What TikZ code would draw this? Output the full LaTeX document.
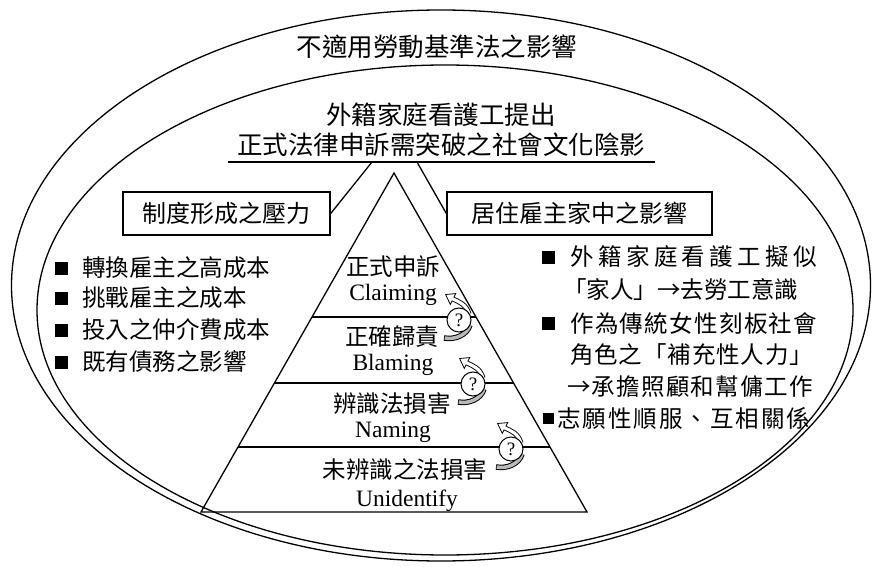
\documentclass[tikz,border=0pt]{standalone}
\usepackage{fontspec}
\setmainfont{Liberation Serif}
\newfontfamily\cjk{Noto Sans CJK TC}
\usetikzlibrary{calc}
\begin{document}
\begin{tikzpicture}[x=1pt,y=-1pt,
  cjktxt/.style={font=\cjk\fontsize{23.5}{28}\selectfont, inner sep=0pt},
  lattxt/.style={font=\fontsize{23.5}{28}\selectfont, inner sep=0pt},
  headtxt/.style={font=\cjk\fontsize{25.5}{30}\selectfont, inner sep=0pt},
  labelbox/.style={draw, line width=1.4pt, minimum height=43pt, inner sep=0pt, font=\cjk\fontsize{24}{28}\selectfont},
  bulletsq/.style={fill=black, minimum size=13pt, inner sep=0pt},
  qcircle/.style={circle, draw, fill=white, line width=1pt, minimum size=24pt, inner sep=0pt, font=\fontsize{19}{20}\selectfont},
  outline/.style={line width=1.3pt},
  qmarkback/.style={line width=5.5pt},
  qmarkfront/.style={line width=3.5pt, gray!55}
]
\useasboundingbox (0,0) rectangle (872,567);
\fill[white] (0,0) rectangle (872,567);

% ellipses
\draw[outline] (441,285.5) ellipse [x radius=429.5pt, y radius=275.5pt];
\draw[outline] (445,310) ellipse [x radius=408pt, y radius=245pt];

% headings
\node[headtxt] (title) at (437,47) {不適用勞動基準法之影響};
\node[headtxt] (head1) at (441,115) {外籍家庭看護工提出};
\node[headtxt] (head2) at (441,145) {正式法律申訴需突破之社會文化陰影};
\coordinate (ulA) at (228,162);
\coordinate (ulB) at (655,162);
\draw[line width=1.8pt] (ulA) -- (ulB);
\coordinate (ulL) at (372,162);
\coordinate (ulR) at (417,162);

% boxes
\node[labelbox, minimum width=207pt] (lbox) at (226.5,213.5) {制度形成之壓力};
\node[labelbox, minimum width=265pt] (rbox) at (579.5,213.5) {居住雇主家中之影響};
\draw[outline] (ulL) -- (lbox.east);
\draw[outline] (ulR) -- (rbox.west);

% pyramid
\coordinate (apex) at (394,173);
\coordinate (bl) at (201,512);
\coordinate (br) at (587,512);
\draw[outline, line join=miter] (apex) -- (bl) -- (br) -- cycle;
\foreach \f in {0.4248,0.6195,0.8083}{
  \draw[outline] ($(apex)!\f!(bl)$) -- ($(apex)!\f!(br)$);
}

% pyramid texts
\node[cjktxt] (t1) at (393,267) {正式申訴};
\node[lattxt] (l1) at (393,295) {Claiming};
\node[cjktxt] (t2) at (392,337) {正確歸責};
\node[lattxt] (l2) at (393,365) {Blaming};
\node[cjktxt] (t3) at (392,403) {辨識法損害};
\node[lattxt] (l3) at (393,432) {Naming};
\node[cjktxt] (t4) at (405,469) {未辨識之法損害};
\node[lattxt] (l4) at (407,501) {Unidentify};

% question marks with curved arrows
\foreach \cx/\cy/\nm in {459/320/q1, 473/384/q2, 511/449/q3}{
  \begin{scope}[shift={(\cx,\cy)}]
    \draw[qmarkback] (-15,18) .. controls (-4,20) and (8,15) .. (11,5);
    \draw[qmarkfront] (-14.3,18) .. controls (-4,20) and (8,15) .. (11,5);
    \draw[line width=5pt] (10,-6) .. controls (7,-16) and (0,-18) .. (-6,-21);
    \filldraw[fill=white, line width=0.8pt] (-13.4,-25.5) -- (-3.3,-26.4) -- (-8.7,-15.6) -- cycle;
    \draw[line width=3.2pt, white] (10,-6) .. controls (7,-16) and (0,-18) .. (-6,-21) -- (-7.3,-21.6);
    \node[qcircle] (\nm) at (0,0) {?};
  \end{scope}
}

% left bullets
\foreach \y/\txt/\nm in {268/轉換雇主之高成本/a1, 298/挑戰雇主之成本/a2, 330/投入之仲介費成本/a3, 362/既有債務之影響/a4}{
  \node[bulletsq] (\nm sq) at (61.5,\y) {};
  \node[cjktxt, anchor=west] (\nm) at (82,\y) {\txt};
}

% right bullets
\node[bulletsq] (b1sq) at (548.5,257) {};
\node[cjktxt, anchor=west] (b1) at (570,257) {\makebox[247pt][s]{外\hfill 籍\hfill 家\hfill 庭\hfill 看\hfill 護\hfill 工\hfill 擬\hfill 似}};
\node[cjktxt, anchor=west] (b1b) at (563,290) {「家人」→去勞工意識};
\node[bulletsq] (b2sq) at (548.5,323) {};
\node[cjktxt, anchor=west] (b2) at (570,323) {\makebox[247pt][s]{作\hfill 為\hfill 傳\hfill 統\hfill 女\hfill 性\hfill 刻\hfill 板\hfill 社\hfill 會}};
\node[cjktxt, anchor=west] (b2b) at (570,355) {\makebox[243pt][s]{角\hfill 色\hfill 之\hfill 「\hfill 補\hfill 充\hfill 性\hfill 人\hfill 力\hfill 」}};
\node[cjktxt, anchor=west] (b2c) at (567,387) {\makebox[246pt][s]{→\hfill 承\hfill 擔\hfill 照\hfill 顧\hfill 和\hfill 幫\hfill 傭\hfill 工\hfill 作}};
\node[bulletsq, minimum size=11pt] (b3sq) at (548,418) {};
\node[cjktxt, anchor=west] (b3) at (557,418) {\makebox[253pt][s]{志\hfill 願\hfill 性\hfill 順\hfill 服\hfill 、\hfill 互\hfill 相\hfill 關\hfill 係}};
\end{tikzpicture}
\end{document}
